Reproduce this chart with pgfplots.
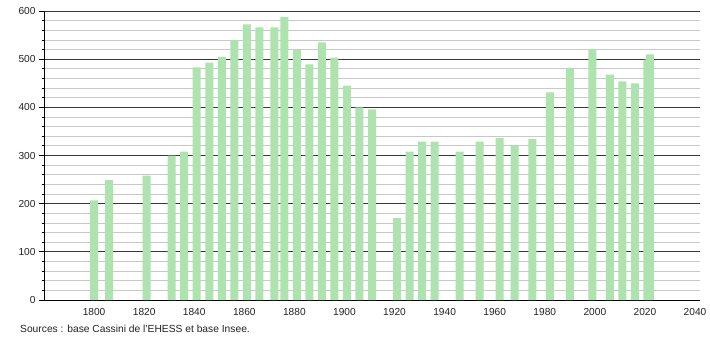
\documentclass[border=0pt]{standalone}
\usepackage{fontspec}
\setmainfont{Liberation Sans}
\usepackage{pgfplots}
\pgfplotsset{compat=1.18}
\definecolor{barg}{RGB}{174,226,174}
\definecolor{majg}{RGB}{55,55,55}
\definecolor{ming}{RGB}{200,200,200}
\definecolor{txt}{RGB}{34,34,34}
\pgfplotstableread{
year pop
1800 207
1806 249
1821 258
1831 300
1836 308
1841 483
1846 493
1851 505
1856 540
1861 572
1866 566
1872 566
1876 588
1881 519
1886 489
1891 535
1896 503
1901 445
1906 400
1911 396
1921 170
1926 308
1931 329
1936 329
1946 308
1954 329
1962 336
1968 320
1975 334
1982 431
1990 482
1999 521
2006 468
2011 454
2016 450
2021 499
2022 510
}\popdata
\begin{document}
\begin{tikzpicture}[x=1bp,y=1bp]
\path[use as bounding box] (0,0) rectangle (710,340);
\begin{axis}[
  at={(44bp,40bp)}, anchor=south west,
  scale only axis, width=656bp, height=289bp,
  xmin=1780, xmax=2042, ymin=0, ymax=600,
  axis x line*=bottom, axis y line*=left,
  axis line style={-, black, line width=0.9bp},
  xtick={1800,1820,...,2040},
  ytick={0,100,...,600},
  minor y tick num=4,
  ymajorgrids, yminorgrids,
  major grid style={majg, line width=0.8bp},
  minor grid style={ming, line width=0.8bp},
  xtick style={draw=none},
  ytick style={black, line width=0.8bp},
  tick align=outside,
  major tick length=5bp, minor tick length=2.5bp,
  /pgf/number format/assume math mode=true,
  x tick label style={/pgf/number format/1000 sep={}},
  ticklabel style={font=\fontsize{10.2}{12}\selectfont, text=txt},
  ybar, bar width=3.2, bar shift=0pt,
]
\addplot[fill=barg, draw=none] table[x=year, y=pop] {\popdata};
\end{axis}
\node[anchor=west, text=txt, font=\fontsize{10.3}{12}\selectfont, inner sep=0pt] at (20,11) {Sources : base Cassini de l\symbol{39}EHESS et base Insee.};
\end{tikzpicture}
\end{document}
